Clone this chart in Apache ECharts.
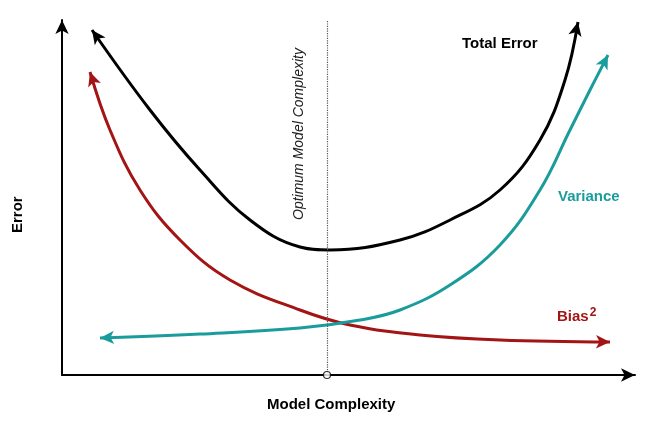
<!DOCTYPE html>
<html><head><meta charset="utf-8">
<script src="https://cdn.jsdelivr.net/npm/echarts@6/dist/echarts.min.js"></script>
<style>html,body{margin:0;padding:0;background:#fff}#c{width:650px;height:423px}</style>
</head><body><div id="c"></div>
<script>
const totalError = [[30,345],[88,265],[138,205],[188,155],[238,128],[268,125],[338,135],[388,155],[438,185],[478,235],[503,295],[516,353]];
const bias = [[28,303],[48,245],[78,185],[118,135],[168,95],[238,65],[288,50],[358,40],[438,35],[548,33]];
const variance = [[38,37],[138,41],[238,47],[298,55],[338,65],[388,90],[438,130],[478,185],[508,245],[528,285],[546,320]];
const optimumX = 265;

function withArrows(pts, startArrow, endArrow){
  return pts.map((p,i)=>{
    const last=pts.length-1;
    if(i===0 && startArrow){
      const a=Math.atan2(p[1]-pts[1][1],p[0]-pts[1][0])*180/Math.PI-90;
      return {value:p,symbol:'arrow',symbolSize:[10,14],symbolRotate:a};
    }
    if(i===last && endArrow){
      const a=Math.atan2(p[1]-pts[last-1][1],p[0]-pts[last-1][0])*180/Math.PI-90;
      return {value:p,symbol:'arrow',symbolSize:[10,14],symbolRotate:a};
    }
    return {value:p,symbol:'none'};
  });
}
const chart=echarts.init(document.getElementById('c'));
function line(name,pts,color){
  return {name,type:'line',smooth:0.4,showSymbol:true,data:withArrows(pts,true,true),
    lineStyle:{color,width:3},itemStyle:{color},z:3};
}
chart.setOption({
  animation:false,
  grid:{left:62,right:15,top:20,bottom:48},
  xAxis:{type:'value',min:0,max:573,splitLine:{show:false},axisTick:{show:false},axisLabel:{show:false},
    axisLine:{onZero:false,lineStyle:{color:'#000',width:2},symbol:['none','arrow'],symbolSize:[10,14]}},
  yAxis:{type:'value',min:0,max:355,splitLine:{show:false},axisTick:{show:false},axisLabel:{show:false},
    axisLine:{onZero:false,lineStyle:{color:'#000',width:2},symbol:['none','arrow'],symbolSize:[10,14]}},
  series:[
    line('Total Error',totalError,'#000'),
    line('Bias',bias,'#a31414'),
    line('Variance',variance,'#1b9c9c'),
    {type:'scatter',clip:false,data:[[optimumX,0]],symbol:'circle',symbolSize:7,itemStyle:{color:'#fff',borderColor:'#000',borderWidth:1.2},z:10,zlevel:1,
      markLine:{silent:true,symbol:'none',label:{show:false},lineStyle:{color:'#555',type:'dotted',width:1.2},data:[{xAxis:optimumX}]}}
  ],
  graphic:[
    {type:'text',x:10,y:233,rotation:Math.PI/2,style:{text:'Error',font:'bold 15px Liberation Sans',fill:'#000'}},
    {type:'text',x:267,y:397,style:{text:'Model Complexity',font:'bold 15px Liberation Sans',fill:'#000'}},
    {type:'text',x:462,y:36,style:{text:'Total Error',font:'bold 15px Liberation Sans',fill:'#000'}},
    {type:'text',x:558,y:189,style:{text:'Variance',font:'bold 15px Liberation Sans',fill:'#1b9c9c'}},
    {type:'text',x:557,y:307,style:{rich:{a:{font:'bold 15px Liberation Sans',fill:'#a31414'},s:{font:'bold 12px Liberation Sans',fill:'#a31414',verticalAlign:'top',padding:[0,0,8,1]}},text:'{a|Bias}{s|2}',fill:'#a31414'}},
    {type:'text',x:292,y:220,rotation:Math.PI/2,style:{text:'Optimum Model Complexity',font:'italic 14px Liberation Sans',fill:'#222'}}
  ]
});
</script></body></html>
